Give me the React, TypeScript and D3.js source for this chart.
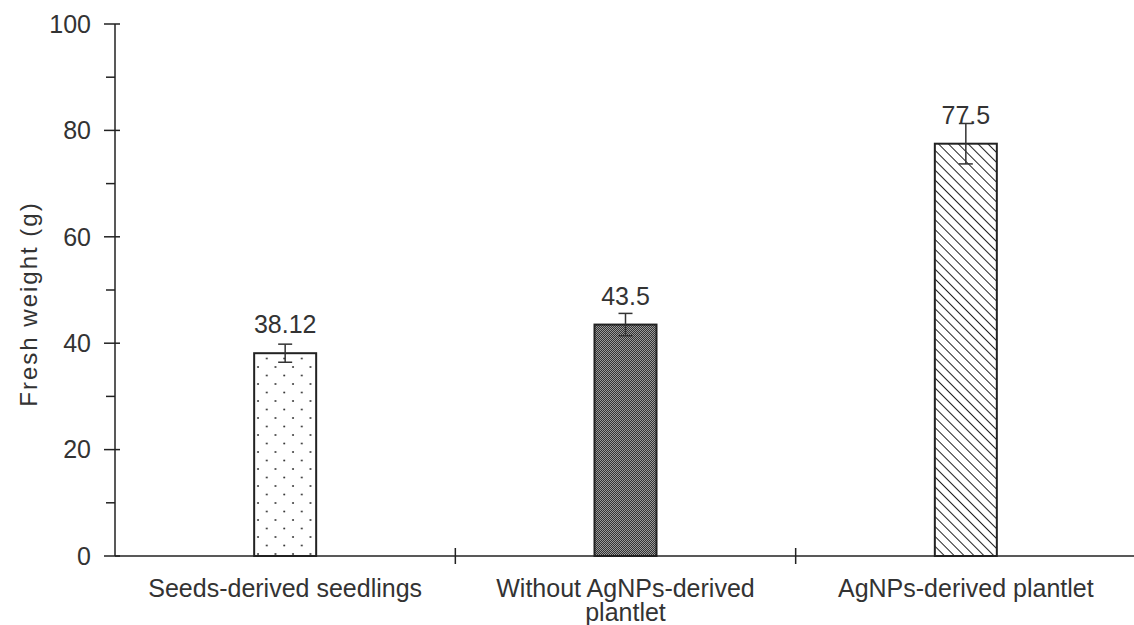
import React, { useEffect, useRef } from 'react';
import * as d3 from 'd3';

// chart data
const categories = ['Seeds-derived seedlings', 'Without AgNPs-derived plantlet', 'AgNPs-derived plantlet'];
const labelLines = [['Seeds-derived seedlings'], ['Without AgNPs-derived', 'plantlet'], ['AgNPs-derived plantlet']];
const values = [38.12, 43.5, 77.5];
const errors = [1.7, 2.1, 3.8];
const valueLabels = ['38.12', '43.5', '77.5'];
const yTicks = [0, 20, 40, 60, 80, 100];
const patterns = ['dots', 'checker', 'diag'];

const App = () => {
    const ref = useRef<SVGSVGElement | null>(null);

    useEffect(() => {
        const svg = d3.select(ref.current);
        svg.selectAll('*').remove();

        const H = 625;
        const margin = { top: 24, bottom: 69, left: 115 };
        const height = H - margin.top - margin.bottom;
        const font = '"Liberation Sans", Arial, sans-serif';
        const ink = '#222';
        const txt = '#333';
        const fs = 25;

        const defs = svg.append('defs');

        // dotted
        const p1 = defs.append('pattern').attr('id', 'dots')
            .attr('patternUnits', 'userSpaceOnUse').attr('width', 17.5).attr('height', 17);
        p1.append('rect').attr('width', 17.5).attr('height', 17).attr('fill', '#fff');
        p1.append('circle').attr('cx', 3).attr('cy', 3).attr('r', 1).attr('fill', '#333');
        p1.append('circle').attr('cx', 11.75).attr('cy', 11.5).attr('r', 1).attr('fill', '#333');

        // dense checker
        const p2 = defs.append('pattern').attr('id', 'checker')
            .attr('patternUnits', 'userSpaceOnUse').attr('width', 2).attr('height', 2);
        p2.append('rect').attr('width', 2).attr('height', 2).attr('fill', '#9a9a9a');
        p2.append('rect').attr('width', 1).attr('height', 1).attr('fill', '#333');
        p2.append('rect').attr('x', 1).attr('y', 1).attr('width', 1).attr('height', 1).attr('fill', '#333');

        // diagonal lines (top-left to bottom-right)
        const p3 = defs.append('pattern').attr('id', 'diag')
            .attr('patternUnits', 'userSpaceOnUse').attr('width', 7).attr('height', 7)
            .attr('patternTransform', 'rotate(-45)');
        p3.append('rect').attr('width', 7).attr('height', 7).attr('fill', '#fff');
        p3.append('line').attr('x1', 0).attr('y1', 0).attr('x2', 0).attr('y2', 7)
            .attr('stroke', '#222').attr('stroke-width', 2);

        const g = svg.append('g').attr('transform', `translate(${margin.left},${margin.top})`);

        const x = d3.scaleBand<string>().domain(categories).range([0, 1021]);
        const y = d3.scaleLinear().domain([0, 100]).range([height, 0]);
        const barW = 62;

        // y axis
        g.append('line').attr('x1', 0).attr('x2', 0).attr('y1', y(0)).attr('y2', y(100))
            .attr('stroke', ink).attr('stroke-width', 1.5);
        d3.range(0, 101, 10).forEach(v => {
            const major = v % 20 === 0;
            g.append('line')
                .attr('x1', major ? -11 : -9).attr('x2', major ? 5 : 0)
                .attr('y1', y(v)).attr('y2', y(v))
                .attr('stroke', ink).attr('stroke-width', 1.5);
        });
        g.selectAll('.ytick').data(yTicks).enter().append('text')
            .attr('x', -24).attr('y', d => y(d)).attr('dy', '0.35em')
            .attr('text-anchor', 'end').attr('font-family', font).attr('font-size', fs)
            .attr('fill', txt).text(d => d);

        g.append('text')
            .attr('transform', `translate(${-78},${y(50) + 14}) rotate(-90)`)
            .attr('text-anchor', 'middle').attr('font-family', font).attr('font-size', fs - 1)
            .attr('letter-spacing', 2)
            .attr('fill', txt).text('Fresh weight  (g)');

        // bars
        g.selectAll('.bar').data(values).enter().append('rect')
            .attr('x', (d, i) => x(categories[i])! + x.bandwidth() / 2 - barW / 2)
            .attr('y', d => y(d))
            .attr('width', barW)
            .attr('height', d => y(0) - y(d))
            .attr('fill', (d, i) => `url(#${patterns[i]})`)
            .attr('stroke', ink).attr('stroke-width', 2);

        // error bars and value labels
        values.forEach((v, i) => {
            const cx = x(categories[i])! + x.bandwidth() / 2;
            const t = y(v + errors[i]), b = y(v - errors[i]);
            g.append('line').attr('x1', cx).attr('x2', cx).attr('y1', t).attr('y2', b)
                .attr('stroke', '#333').attr('stroke-width', 1.5);
            [t, b].forEach(yy => g.append('line').attr('x1', cx - 7).attr('x2', cx + 7)
                .attr('y1', yy).attr('y2', yy).attr('stroke', '#333').attr('stroke-width', 1.5));
            g.append('text').attr('x', cx).attr('y', y(v) - 20)
                .attr('text-anchor', 'middle').attr('font-family', font).attr('font-size', fs)
                .attr('fill', txt).text(valueLabels[i]);
        });

        // x axis
        g.append('line').attr('x1', 0).attr('x2', 1021).attr('y1', y(0)).attr('y2', y(0))
            .attr('stroke', ink).attr('stroke-width', 1.5);
        categories.forEach((c, i) => {
            const bx = x(c)!;
            if (i > 0) {
                g.append('line').attr('x1', bx).attr('x2', bx).attr('y1', y(0) - 8).attr('y2', y(0) + 8)
                    .attr('stroke', ink).attr('stroke-width', 1.5);
            }
            const t = g.append('text').attr('x', bx + x.bandwidth() / 2).attr('y', y(0) + 41)
                .attr('text-anchor', 'middle').attr('font-family', font).attr('font-size', fs)
                .attr('fill', txt);
            labelLines[i].forEach((ln, j) => {
                t.append('tspan').attr('x', bx + x.bandwidth() / 2).attr('dy', j === 0 ? 0 : 24).text(ln);
            });
        });
    }, []);

    return (
        <svg ref={ref} width={1134} height={625}
            style={{ position: 'absolute', left: 0, top: 0, background: '#fff' }} />
    );
};

export default App;
